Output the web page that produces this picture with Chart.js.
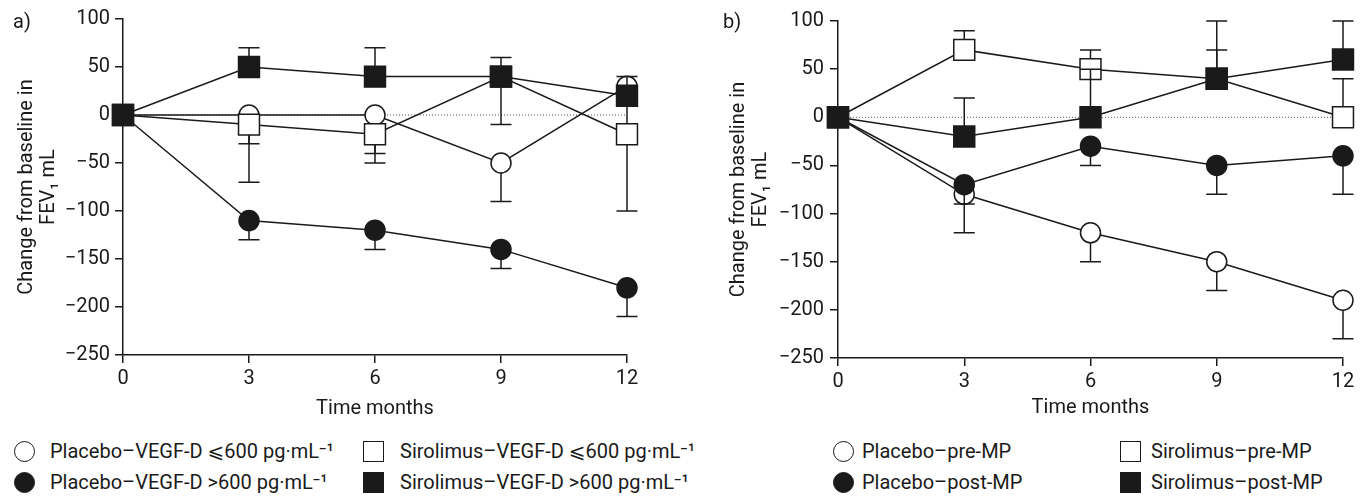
<!DOCTYPE html>
<html><head><meta charset="utf-8">
<script src="https://cdn.jsdelivr.net/npm/chart.js@4.4.0/dist/chart.umd.min.js"></script>
<style>
html,body{margin:0;padding:0;background:#fff;width:1369px;height:497px;overflow:hidden;font-family:Roboto,"DejaVu Sans",sans-serif;color:#1a1a1a}
canvas{position:absolute;top:0}
.t{position:absolute;font-size:20px;line-height:24px;height:24px;white-space:nowrap}
.mk{position:absolute;box-sizing:border-box;border:1.5px solid #1a1a1a;background:#fff}
.mk.fill{background:#1a1a1a}
.mk.circ{border-radius:50%}
</style></head>
<body>
<canvas id="ca" width="684" height="430" style="left:0"></canvas>
<canvas id="cb" width="669" height="430" style="left:700px"></canvas>
<div class="t" style="left:13px;top:9px">a)</div>
<div class="t" style="left:723px;top:9px">b)</div>
<div id="legend"></div>
<script>
// ---------- data ----------
const months = [0, 3, 6, 9, 12];
const xTicks = [0, 3, 6, 9, 12];
const yTicks = [100, 50, 0, -50, -100, -150, -200, -250];
const xTitle = 'Time months';
const yTitle = ['Change from baseline in', 'FEV\u2081 mL'];

// Panel a
const aLabels = ['Placebo\u2013VEGF-D \u2A7D600 pg\u00B7mL\u207B\u00B9', 'Placebo\u2013VEGF-D >600 pg\u00B7mL\u207B\u00B9',
                 'Sirolimus\u2013VEGF-D \u2A7D600 pg\u00B7mL\u207B\u00B9', 'Sirolimus\u2013VEGF-D >600 pg\u00B7mL\u207B\u00B9'];
const aPlaceboLow = [0, 0, 0, -50, 30];
const aPlaceboLowErr = [null, -30, -40, -40, -40];
const aPlaceboHigh = [0, -110, -120, -140, -180];
const aPlaceboHighErr = [null, -20, -20, -20, -30];
const aSiroLow = [0, -10, -20, 40, -20];
const aSiroLowErr = [null, -60, -30, -50, -80];
const aSiroHigh = [0, 50, 40, 40, 20];
const aSiroHighErr = [null, 20, 30, 20, 20];

// Panel b
const bLabels = ['Placebo\u2013pre-MP', 'Placebo\u2013post-MP', 'Sirolimus\u2013pre-MP', 'Sirolimus\u2013post-MP'];
const bPlaceboPre = [0, -80, -120, -150, -190];
const bPlaceboPreErr = [null, -40, -30, -30, -40];
const bPlaceboPost = [0, -70, -30, -50, -40];
const bPlaceboPostErr = [null, -20, -20, -30, -40];
const bSiroPre = [0, 70, 50, 40, 0];
const bSiroPreErr = [null, 20, 20, 30, 40];
const bSiroPost = [0, -20, 0, 40, 60];
const bSiroPostErr = [null, 40, 50, 60, 40];

const zeroLine = [0, 0];
const zeroLineX = [0, 12];

// ---------- styling ----------
const ink = '#1a1a1a';
const FONT = 'Roboto, "DejaVu Sans", sans-serif';
const CAP = 10.5;

const errorBarPlugin = {
  id: 'errbars',
  beforeDatasetDraw(chart, args) {
    const ds = chart.data.datasets[args.index];
    if (!ds.errors) return;
    const {ctx} = chart;
    const x = chart.scales.x, y = chart.scales.y;
    ctx.save();
    ctx.strokeStyle = ink; ctx.lineWidth = 1.5;
    ds.data.forEach((pt, i) => {
      const e = ds.errors[i];
      if (e == null) return;
      const px = x.getPixelForValue(pt.x);
      const p0 = y.getPixelForValue(pt.y);
      const p1 = y.getPixelForValue(pt.y + e);
      ctx.beginPath();
      ctx.moveTo(px, p0); ctx.lineTo(px, p1);
      ctx.moveTo(px - CAP, p1); ctx.lineTo(px + CAP, p1);
      ctx.stroke();
    });
    ctx.restore();
  }
};

function series(label, vals, errs, shape, filled, order) {
  return {
    label, order,
    data: months.map((m, i) => ({x: m, y: vals[i]})),
    errors: errs,
    borderColor: ink, borderWidth: 1.5, tension: 0,
    pointStyle: shape === 'circle' ? 'circle' : 'rect',
    pointRadius: shape === 'circle' ? 10 : 14.8,
    pointHoverRadius: shape === 'circle' ? 10 : 14.8,
    pointBorderWidth: 1.5,
    pointBorderColor: ink,
    pointBackgroundColor: filled ? ink : '#fff',
    clip: false
  };
}
function zeroDs() {
  return {
    label: 'zero', order: 10,
    data: zeroLineX.map((x, i) => ({x, y: zeroLine[i]})),
    borderColor: '#555', borderWidth: 1, borderDash: [1, 2],
    pointRadius: 0, tension: 0
  };
}

function makeChart(id, datasets, geo) {
  const tickFont = {family: FONT, size: 20};
  new Chart(document.getElementById(id), {
    type: 'line',
    data: {datasets},
    plugins: [errorBarPlugin],
    options: {
      responsive: false, animation: false, devicePixelRatio: 1,
      events: [],
      layout: {padding: {top: geo.top, right: geo.right, left: 0, bottom: 0}},
      plugins: {legend: {display: false}, tooltip: {enabled: false}},
      scales: {
        x: {
          type: 'linear', min: 0, max: 12,
          afterBuildTicks: s => { s.ticks = xTicks.map(v => ({value: v})); },
          afterFit: s => { s.height = geo.xh; },
          border: {color: ink, width: 1.5},
          grid: {drawOnChartArea: false, drawTicks: true, tickLength: 8, color: ink, lineWidth: 1.5},
          ticks: {color: ink, font: tickFont, padding: 4, maxRotation: 0},
          title: {display: true, text: xTitle, color: ink, font: {family: FONT, size: 20, lineHeight: 1.2}, padding: {top: 0, bottom: geo.xtb}}
        },
        y: {
          type: 'linear', min: -250, max: 100,
          afterBuildTicks: s => { s.ticks = yTicks.map(v => ({value: v})); },
          afterFit: s => { s.width = geo.yw; },
          border: {color: ink, width: 1.5},
          grid: {drawOnChartArea: false, drawTicks: true, tickLength: 8, color: ink, lineWidth: 1.5},
          ticks: {color: ink, font: tickFont, padding: geo.ypad, callback: v => String(v).replace('-', '\u2212')},
          title: {display: true, text: yTitle, color: ink, font: {family: FONT, size: 20, lineHeight: 1.1}, padding: {top: geo.ytp, bottom: 0}}
        }
      }
    }
  });
}

makeChart('ca', [
  series(aLabels[3], aSiroHigh, aSiroHighErr, 'rect', true, 1),
  series(aLabels[2], aSiroLow, aSiroLowErr, 'rect', false, 2),
  series(aLabels[1], aPlaceboHigh, aPlaceboHighErr, 'circle', true, 3),
  series(aLabels[0], aPlaceboLow, aPlaceboLowErr, 'circle', false, 4),
  zeroDs()
], {top: 19, right: 57, xh: 75, yw: 123, ypad: 5, ytp: 16, xtb: 9});

makeChart('cb', [
  series(bLabels[3], bSiroPost, bSiroPostErr, 'rect', true, 1),
  series(bLabels[2], bSiroPre, bSiroPreErr, 'rect', false, 2),
  series(bLabels[1], bPlaceboPost, bPlaceboPostErr, 'circle', true, 3),
  series(bLabels[0], bPlaceboPre, bPlaceboPreErr, 'circle', false, 4),
  zeroDs()
], {top: 21, right: 26, xh: 72, yw: 138, ypad: 6, ytp: 28, xtb: 10});

// ---------- legends (HTML) ----------
const legendItems = [
  {label: aLabels[0], shape: 'circ', fill: false, mx: 14, tx: 50, row: 0},
  {label: aLabels[2], shape: 'sq', fill: false, mx: 363, tx: 400, row: 0},
  {label: aLabels[1], shape: 'circ', fill: true, mx: 14, tx: 50, row: 1},
  {label: aLabels[3], shape: 'sq', fill: true, mx: 363, tx: 400, row: 1},
  {label: bLabels[0], shape: 'circ', fill: false, mx: 833, tx: 862, row: 0},
  {label: bLabels[2], shape: 'sq', fill: false, mx: 1120, tx: 1151, row: 0},
  {label: bLabels[1], shape: 'circ', fill: true, mx: 833, tx: 862, row: 1},
  {label: bLabels[3], shape: 'sq', fill: true, mx: 1120, tx: 1151, row: 1}
];
const rowY = [451, 482];
const lg = document.getElementById('legend');
legendItems.forEach(it => {
  const m = document.createElement('div');
  const size = 21;
  m.className = 'mk' + (it.shape === 'circ' ? ' circ' : '') + (it.fill ? ' fill' : '');
  m.style.cssText = `left:${it.mx}px;top:${rowY[it.row] - size / 2}px;width:${size}px;height:${size}px`;
  lg.appendChild(m);
  const t = document.createElement('div');
  t.className = 't';
  t.textContent = it.label;
  t.style.left = it.tx + 'px';
  t.style.top = (rowY[it.row] - 12) + 'px';
  lg.appendChild(t);
});
</script>
</body></html>
